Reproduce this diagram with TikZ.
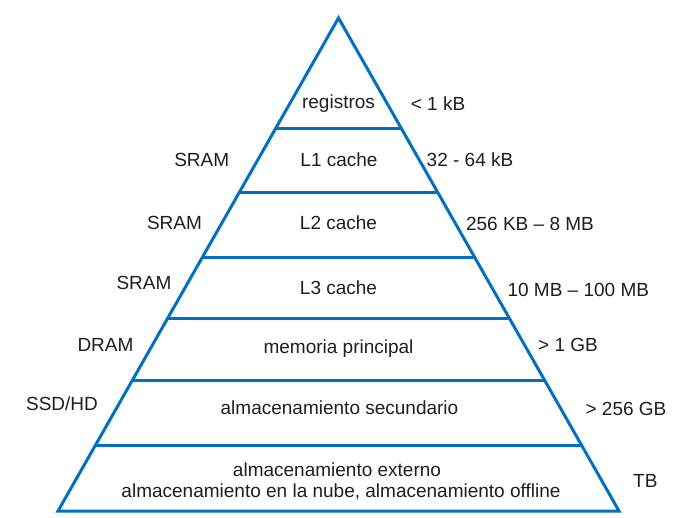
\documentclass[tikz,border=0pt]{standalone}
\usepackage{fontspec}
\setmainfont{Liberation Sans}
\definecolor{pyrblue}{HTML}{0070C0}
\definecolor{txtgray}{HTML}{1E1E1E}
\begin{document}
\begin{tikzpicture}[x=1pt,y=-1pt,
  pyr/.style={draw=pyrblue,line width=3pt,line join=miter},
  lbl/.style={inner sep=0pt,anchor=base,text=txtgray,font=\fontsize{19}{21}\selectfont}]
\useasboundingbox (0,0) rectangle (687,518);
% pyramid corners
\coordinate (apex) at (338.5,18);
\coordinate (bl) at (58,511);
\coordinate (br) at (619,511);
\draw[pyr] (apex) -- (br) -- (bl) -- cycle;
% level lines
\coordinate (a1) at (275.74,128.3); \coordinate (b1) at (401.26,128.3);
\coordinate (a2) at (238.93,193);   \coordinate (b2) at (438.07,193);
\coordinate (a3) at (202.35,257.3); \coordinate (b3) at (474.65,257.3);
\coordinate (a4) at (167.64,318.3); \coordinate (b4) at (509.36,318.3);
\coordinate (a5) at (132.53,380);   \coordinate (b5) at (544.47,380);
\coordinate (a6) at (95.55,445);    \coordinate (b6) at (581.45,445);
\foreach \i in {1,...,6} \draw[pyr] (a\i) -- (b\i);
% centre texts
\node[lbl] (reg) at (338.5,108.3) {registros};
\node[lbl] (l1) at (339,166.7) {L1 cache};
\node[lbl] (l2) at (338.5,229.5) {L2 cache};
\node[lbl] (l3) at (338.5,294.5) {L3 cache};
\node[lbl] (mem) at (338.5,353.3) {memoria principal};
\node[lbl] (sec) at (339.5,414.3) {almacenamiento secundario};
\node[lbl] (ext1) at (337,476.7) {almacenamiento externo};
\node[lbl] (ext2) at (341,497.7) {almacenamiento en la nube, almacenamiento offline};
% left texts
\node[lbl] (s1) at (201.7,166.7) {SRAM};
\node[lbl] (s2) at (174.5,229.3) {SRAM};
\node[lbl] (s3) at (144,290) {SRAM};
\node[lbl] (dram) at (105.5,351.7) {DRAM};
\node[lbl] (ssd) at (62,410.7) {SSD/HD};
% right texts
\node[lbl] (r0) at (438,110.7) {< 1 kB};
\node[lbl] (r1) at (470,166.7) {32 - 64 kB};
\node[lbl] (r2) at (530,230.7) {256 KB – 8 MB};
\node[lbl] (r3) at (578.3,296.7) {10 MB – 100 MB};
\node[lbl] (r4) at (568,351.7) {> 1 GB};
\node[lbl] (r5) at (626,415) {> 256 GB};
\node[lbl] (r6) at (645.3,487.3) {TB};
\end{tikzpicture}
\end{document}
